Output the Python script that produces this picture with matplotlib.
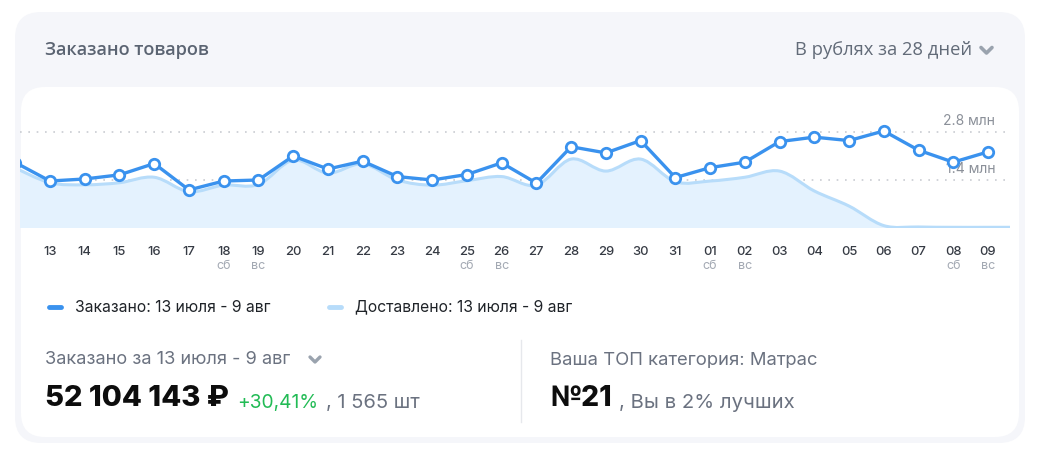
import matplotlib
matplotlib.use("Agg")
import matplotlib.pyplot as plt
from matplotlib.patches import FancyBboxPatch, PathPatch
from matplotlib.path import Path
import numpy as np

plt.rcParams['font.family'] = ['Inter', 'DejaVu Sans']

# data (млн руб.), first value is the day before 13 (partly visible at the left edge)
days = ['13', '14', '15', '16', '17', '18', '19', '20', '21', '22', '23', '24', '25', '26',
        '27', '28', '29', '30', '31', '01', '02', '03', '04', '05', '06', '07', '08', '09']
weekdays = {'18': 'сб', '19': 'вс', '25': 'сб', '26': 'вс', '01': 'сб', '02': 'вс', '08': 'сб', '09': 'вс'}
ordered = [1.91, 1.37, 1.43, 1.55, 1.88, 1.11, 1.37, 1.40, 2.10, 1.72, 1.95, 1.50, 1.40, 1.56, 1.90,
           1.31, 2.37, 2.19, 2.55, 1.47, 1.76, 1.92, 2.52, 2.65, 2.55, 2.83, 2.27, 1.92, 2.22]
# delivered also runs one day past 09 (to the right edge)
delivered = [1.75, 1.32, 1.26, 1.32, 1.48, 1.06, 1.25, 1.27, 1.98, 1.60, 1.87, 1.40, 1.25, 1.38, 1.50,
             1.25, 2.01, 1.66, 2.01, 1.35, 1.37, 1.48, 1.66, 1.08, 0.64, 0.07, 0.03, 0.02, 0.02, 0.02]
grid_vals = [1.4, 2.8]
grid_labels = ['1.4 млн', '2.8 млн']

BLUE = '#3a92ee'
LIGHT = '#b7dcfa'
FILL = '#e4f2fe'
W, H = 1038, 450


def smooth_path(xs, ys, close=False):
    # Catmull-Rom -> cubic bezier
    pts = np.column_stack([xs, ys])
    ext = np.vstack([pts[0], pts, pts[-1]])
    verts = [pts[0]]
    codes = [Path.MOVETO]
    for i in range(len(pts) - 1):
        p0, p1, p2, p3 = ext[i], ext[i + 1], ext[i + 2], ext[i + 3]
        verts += [p1 + (p2 - p0) / 6, p2 - (p3 - p1) / 6, p2]
        codes += [Path.CURVE4] * 3
    if close:
        verts += [(xs[-1], 0), (xs[0], 0), (xs[0], 0)]
        codes += [Path.LINETO, Path.LINETO, Path.CLOSEPOLY]
    return Path(verts, codes)


fig = plt.figure(figsize=(W / 100, H / 100), dpi=100)
fig.patch.set_facecolor('white')

bg = fig.add_axes([0, 0, 1, 1], zorder=0)
bg.set_xlim(0, W)
bg.set_ylim(H, 0)
bg.axis('off')

bg.add_patch(FancyBboxPatch((15, 12), 1010, 431, boxstyle='round,pad=0,rounding_size=26',
                            fc='#f5f6fa', ec='none'))
bg.add_patch(FancyBboxPatch((21, 87), 998, 350, boxstyle='round,pad=0,rounding_size=24',
                            fc='white', ec='none'))

bg.text(45, 50, 'Заказано товаров', fontsize=13, fontweight='semibold', color='#5b6472',
        va='center', ha='left', family=['Open Sans', 'DejaVu Sans'])
bg.text(972, 50, 'В рублях за 28 дней', fontsize=13.2, color='#626b78',
        va='center', ha='right', family=['Open Sans', 'DejaVu Sans'])
bg.plot([981, 986.5, 992], [47.5, 53, 47.5], color='#9aa3ae', lw=2.6, solid_capstyle='round',
        solid_joinstyle='round')

# legend
bg.plot([49, 61], [307, 307], color=BLUE, lw=3.5, solid_capstyle='round')
bg.text(75, 307, 'Заказано: 13 июля - 9 авг', fontsize=11.3, color='#1f2328', va='center')
bg.plot([329, 341], [307, 307], color=LIGHT, lw=3.5, solid_capstyle='round')
bg.text(355, 307, 'Доставлено: 13 июля - 9 авг', fontsize=11.3, color='#1f2328', va='center')

# summary
bg.text(45, 360, 'Заказано за 13 июля - 9 авг', fontsize=13.1, color='#6b7280', va='center')
bg.plot([310, 315, 320], [357, 362, 357], color='#9aa3ae', lw=2.4, solid_capstyle='round',
        solid_joinstyle='round')
bg.text(45, 399, '52 104 143 ₽', fontsize=21, fontweight='heavy', color='#0d0d0d', va='center')
bg.text(237, 403, '+30,41%', fontsize=13.8, color='#22bb55', va='center')
bg.text(326, 403, ', 1 565 шт', fontsize=14.5, color='#6b7280', va='center')
bg.plot([521, 521], [340, 422], color='#e6e8ec', lw=1)
bg.text(550, 360, 'Ваша ТОП категория: Матрас', fontsize=13.3, color='#6b7280', va='center')
bg.text(550, 399, '№21', fontsize=20.3, fontweight='heavy', color='#0d0d0d', va='center')
bg.text(619, 403, ', Вы в 2% лучших', fontsize=14.6, color='#6b7280', va='center')

# chart
x0, step, base, top = 50, (988 - 50) / 27, 228, 100
ax = fig.add_axes([20 / W, (H - base) / H, (1010 - 20) / W, (base - top) / H], zorder=1)
ax.set_facecolor('none')
xs_o = np.arange(-1, len(ordered) - 1)
xs_d = np.arange(-1, len(delivered) - 1)
ax.set_xlim((20 - x0) / step, (1010 - x0) / step)
ax.set_ylim(0, (base - top) / 48 * 1.4)
for s in ax.spines.values():
    s.set_visible(False)

ax.add_patch(PathPatch(smooth_path(xs_d, delivered, close=True), fc=FILL, ec='none', zorder=1))
ax.add_patch(PathPatch(smooth_path(xs_d, delivered), fc='none', ec=LIGHT, lw=2.2, zorder=2))
ax.plot(xs_o, ordered, color=BLUE, lw=2.4, marker='o', ms=7.5, mfc='white', mec=BLUE, mew=2,
        zorder=4)

for v, lab in zip(grid_vals, grid_labels):
    ax.axhline(v, color='#c9ccd2', lw=1.2, ls=(0, (1, 4)), zorder=0)
    ax.text((995 - x0) / step, v + 0.12, lab, fontsize=10, color='#8b9099',
            ha='right', va='bottom', zorder=3)

ax.set_yticks([])
ax.set_xticks(np.arange(len(days)))
ax.set_xticklabels(days, fontsize=9.3, color='#363b44', fontweight='medium')
ax.tick_params(axis='x', length=0, pad=13)
for i, d in enumerate(days):
    if d in weekdays:
        ax.text(i, -38 / 48 * 1.4, weekdays[d], fontsize=9, color='#a3a9b3', ha='center', va='center')

fig.savefig('out.png', dpi=100, facecolor='white')
